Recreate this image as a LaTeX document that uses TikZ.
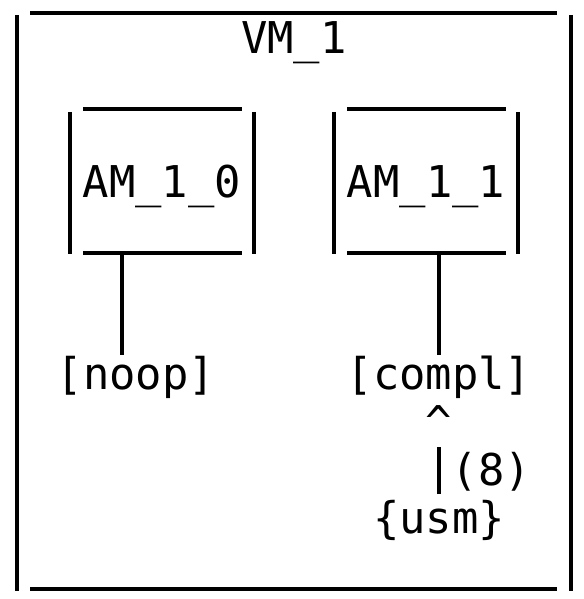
\documentclass[tikz,border=0pt]{standalone}
\usepackage{fontspec}
\newfontfamily\asciifont{DejaVu Sans Mono}
\tikzset{
  edge/.style={line width=1.9pt},
  lbl/.style={font=\asciifont\fontsize{21.9}{26}\selectfont, anchor=base, inner sep=0pt}
}

\begin{document}
\begin{tikzpicture}[x=0.5pt,y=-0.5pt]
    \useasboundingbox (0,0) rectangle (583,599);

    % VM frame
    \draw[edge] (30,13) -- (557,13);
    \draw[edge] (30,589) -- (557,589);
    \draw[edge] (17,15) -- (17,591);
    \draw[edge] (571,15) -- (571,591);
    \node[lbl] (vm) at (294,54) {VM\_1};

    % AM boxes
    \draw[edge] (83,109) -- (242,109);
    \draw[edge] (83,253) -- (242,253);
    \draw[edge] (70,112) -- (70,254);
    \draw[edge] (254,112) -- (254,254);
    \node[lbl] (am0) at (162,197) {AM\_1\_0};

    \draw[edge] (347,109) -- (506,109);
    \draw[edge] (347,253) -- (506,253);
    \draw[edge] (334,112) -- (334,254);
    \draw[edge] (518,112) -- (518,254);
    \node[lbl] (am1) at (426,197) {AM\_1\_1};

    % Labels below
    \node[lbl] (noop) at (136,389) {[noop]};
    \node[lbl] (compl) at (439,389) {[compl]};
    \node[lbl] (caret) at (439,437) {\^{}};
    \node[lbl] (cnt) at (491.5,485) {(8)};
    \node[lbl] (usm) at (439,533) {\{usm\}};

    % Links
    \coordinate (am0foot) at (122,253);
    \coordinate (am1foot) at (439,253);
    \draw[edge] (am0foot) -- (am0foot |- noop.north);
    \draw[edge] (am1foot) -- (am1foot |- compl.north);
    \draw[edge] (usm.base) ++(0,-39) -- ++(0,-47);
\end{tikzpicture}
\end{document}
